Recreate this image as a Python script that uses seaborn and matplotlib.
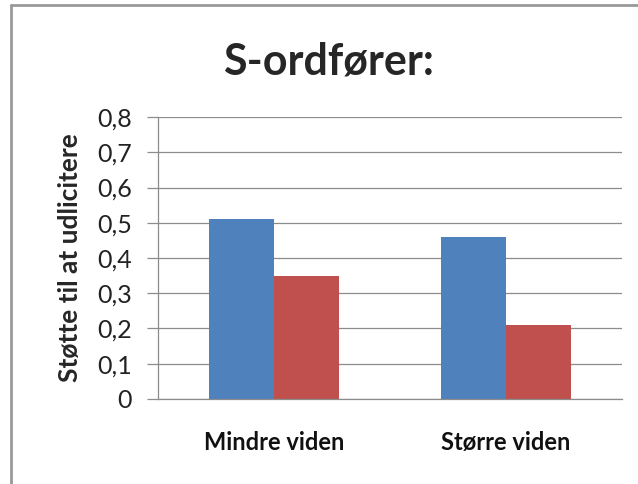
import matplotlib
matplotlib.use("Agg")
import matplotlib.pyplot as plt
import seaborn as sns
import pandas as pd
from matplotlib.lines import Line2D
from matplotlib.ticker import FuncFormatter

# data
categories = ["Mindre viden", "Større viden"]
series_names = ["Serie 1", "Serie 2"]
serie1 = [0.51, 0.46]
serie2 = [0.35, 0.21]
yticks = [0, 0.1, 0.2, 0.3, 0.4, 0.5, 0.6, 0.7, 0.8]

df = pd.DataFrame({
    "kategori": categories * 2,
    "serie": [series_names[0]] * 2 + [series_names[1]] * 2,
    "vaerdi": serie1 + serie2,
})

sns.set_style("white")
plt.rcParams["font.family"] = ["Lato", "DejaVu Sans"]

fig = plt.figure(figsize=(6.38, 4.84), dpi=100)
ax = fig.add_axes([0.248, 0.176, 0.727, 0.582])

sns.barplot(data=df, x="kategori", y="vaerdi", hue="serie",
            palette=["#4F81BD", "#C0504D"], width=0.56,
            saturation=1, legend=False, linewidth=0, ax=ax)

ax.set_ylim(0, 0.8)
ax.set_yticks(yticks)
ax.yaxis.set_major_formatter(FuncFormatter(
    lambda v, _: "0" if v == 0 else f"{v:.1f}".replace(".", ",")))
ax.yaxis.grid(True, color="#8c8c8c", linewidth=0.9)
ax.set_axisbelow(True)

for side in ["top", "right"]:
    ax.spines[side].set_visible(False)
for side in ["left", "bottom"]:
    ax.spines[side].set_color("#8c8c8c")
    ax.spines[side].set_linewidth(0.9)

ax.tick_params(axis="y", which="major", left=True, length=8, width=0.9,
               color="#8c8c8c", labelsize=18, pad=11, labelcolor="#222222")
ax.tick_params(axis="x", bottom=False, labelsize=17, pad=20,
               labelcolor="#111111")
for lbl in ax.get_xticklabels():
    lbl.set_fontweight("bold")
ax.set_xlabel("")
ax.set_ylabel("Støtte til at udlicitere", fontsize=19, fontweight="bold",
              labelpad=11)

fig.text(0.515, 0.872, "S-ordfører:", ha="center", va="center",
         fontsize=31, fontweight="bold")

# grey frame around the chart area (left and top edges visible)
fig.add_artist(Line2D([11 / 638, 11 / 638], [0, 1 - 5 / 484],
                      transform=fig.transFigure, color="#999999", lw=2))
fig.add_artist(Line2D([11 / 638, 1], [1 - 5 / 484, 1 - 5 / 484],
                      transform=fig.transFigure, color="#999999", lw=2))

fig.savefig("out.png", dpi=100)
